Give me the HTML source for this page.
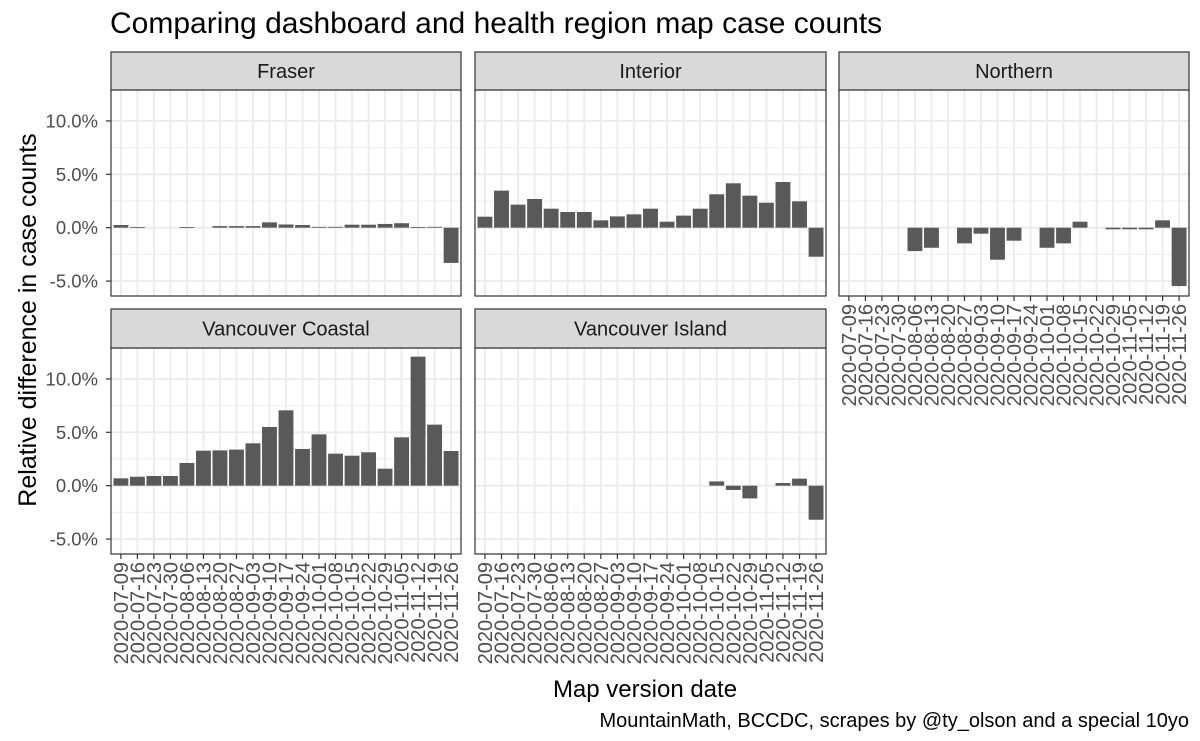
<!DOCTYPE html>
<html><head><meta charset="utf-8"><style>
html,body{margin:0;padding:0;background:#fff;}
svg{display:block;font-family:"Liberation Sans",sans-serif;}
</style></head><body>
<svg id="chart" width="1200" height="741" viewBox="0 0 1200 741"></svg>
<script>
const dates = ["2020-07-09","2020-07-16","2020-07-23","2020-07-30","2020-08-06","2020-08-13","2020-08-20","2020-08-27","2020-09-03","2020-09-10","2020-09-17","2020-09-24","2020-10-01","2020-10-08","2020-10-15","2020-10-22","2020-10-29","2020-11-05","2020-11-12","2020-11-19","2020-11-26"];
const regions = ["Fraser","Interior","Northern","Vancouver Coastal","Vancouver Island"];
const fraserValues = [0.25,0.06,null,null,0.05,null,0.15,0.15,0.15,0.5,0.3,0.25,0.08,0.08,0.28,0.28,0.35,0.42,0.06,0.08,-3.3];
const interiorValues = [1.03,3.47,2.16,2.69,1.78,1.47,1.47,0.69,1.06,1.25,1.78,0.56,1.13,1.78,3.13,4.16,3.0,2.34,4.28,2.47,-2.72];
const northernValues = [null,null,null,null,-2.19,-1.88,null,-1.47,-0.56,-3.0,-1.22,null,-1.88,-1.47,0.56,null,-0.15,-0.15,-0.15,0.69,-5.47];
const coastalValues = [0.69,0.84,0.91,0.91,2.13,3.28,3.31,3.38,3.97,5.5,7.06,3.44,4.81,3.0,2.81,3.13,1.59,4.53,12.09,5.72,3.25];
const islandValues = [null,null,null,null,null,null,null,null,null,null,null,null,null,null,0.4,-0.4,-1.19,null,0.25,0.66,-3.19];
const yTicks = [10,5,0,-5];
const yTickLabels = ["10.0%","5.0%","0.0%","-5.0%"];
const yMinorTicks = [7.5,2.5,-2.5];

const NS="http://www.w3.org/2000/svg";
const svg=document.getElementById('chart');
function mk(tag,attrs,parent,text){const e=document.createElementNS(NS,tag);for(const k in attrs)e.setAttribute(k,attrs[k]);if(text!==undefined)e.textContent=text;(parent||svg).appendChild(e);return e;}

const yMin=-6.4,yMax=12.9;
const cols=[[111,461],[475,826],[839,1189]];
const rows=[{st:52,top:90,bot:296},{st:309,top:348,bot:554}];
const panels=[
 {name:regions[0],vals:fraserValues,c:0,r:0,xlab:false,ylab:true},
 {name:regions[1],vals:interiorValues,c:1,r:0,xlab:false,ylab:false},
 {name:regions[2],vals:northernValues,c:2,r:0,xlab:true,ylab:false},
 {name:regions[3],vals:coastalValues,c:0,r:1,xlab:true,ylab:true},
 {name:regions[4],vals:islandValues,c:1,r:1,xlab:true,ylab:false}];

panels.forEach(p=>{
  const [x0,x1]=cols[p.c]; const R=rows[p.r];
  const g=mk('g',{});
  
  
  const n=dates.length, bw=(x1-x0)/(n-1+1.2);
  const xs=i=>x0+bw*(0.6+i);
  const ys=v=>R.bot-(v-yMin)/(yMax-yMin)*(R.bot-R.top);
  mk('rect',{x:x0,y:R.top,width:x1-x0,height:R.bot-R.top,fill:'#fff'},g);
  yMinorTicks.forEach(t=>mk('line',{x1:x0,x2:x1,y1:ys(t),y2:ys(t),stroke:'#f0f0f0','stroke-width':1.2},g));
  yTicks.forEach(t=>mk('line',{x1:x0,x2:x1,y1:ys(t),y2:ys(t),stroke:'#ebebeb','stroke-width':1.8},g));
  dates.forEach((d,i)=>mk('line',{x1:xs(i),x2:xs(i),y1:R.top,y2:R.bot,stroke:'#ebebeb','stroke-width':1.8},g));
  p.vals.forEach((v,i)=>{
    if(v===null)return;
    const y0=ys(0),yv=ys(v);
    const b=mk('rect',{x:xs(i)-bw*0.45,y:Math.min(y0,yv),width:bw*0.9,height:Math.max(0.8,Math.abs(yv-y0)),fill:'#595959'},g);
    
    
  });
  mk('rect',{x:x0,y:R.top,width:x1-x0,height:R.bot-R.top,fill:'none',stroke:'#333','stroke-width':1.2},g);
  const st=mk('rect',{x:x0,y:R.st,width:x1-x0,height:R.top-R.st,fill:'#d9d9d9',stroke:'#333','stroke-width':1.2},g);
  
  
  mk('text',{x:(x0+x1)/2,y:(R.st+R.top)/2+7,'text-anchor':'middle','font-size':20,fill:'#1a1a1a'},g,p.name);
  if(p.ylab){
    yTicks.forEach((t,k)=>{
      mk('line',{x1:x0-5,x2:x0,y1:ys(t),y2:ys(t),stroke:'#333','stroke-width':1.2},g);
      const tl=mk('text',{x:x0-13,y:ys(t)+6.5,'text-anchor':'end','font-size':18.5,fill:'#4d4d4d'},g,yTickLabels[k]);
      
      
    });
  }
  if(p.xlab){
    dates.forEach((d,i)=>{
      mk('line',{x1:xs(i),x2:xs(i),y1:R.bot,y2:R.bot+5,stroke:'#333','stroke-width':1.2},g);
      const t=mk('text',{transform:`translate(${xs(i)+7},${R.bot+8}) rotate(-90)`,'text-anchor':'end','font-size':20,fill:'#4d4d4d'},g,d);
      
      
    });
  }
});
</script>
<script>
(function(){
const NS="http://www.w3.org/2000/svg";const svg=document.getElementById('chart');
function t(attrs,txt,name){const e=document.createElementNS(NS,'text');for(const k in attrs)e.setAttribute(k,attrs[k]);e.textContent=txt;


svg.appendChild(e);}
t({x:110,y:33,'font-size':30,fill:'#000'},'Comparing dashboard and health region map case counts','chart-title');
t({transform:'translate(36,320) rotate(-90)','text-anchor':'middle','font-size':25,fill:'#000'},'Relative difference in case counts','y-axis-title');
t({x:645,y:697,'text-anchor':'middle','font-size':24,fill:'#000'},'Map version date','x-axis-title');
t({x:1189,y:727,'text-anchor':'end','font-size':20,fill:'#000'},'MountainMath, BCCDC, scrapes by @ty_olson and a special 10yo','caption');
})();
</script>
</body></html>
